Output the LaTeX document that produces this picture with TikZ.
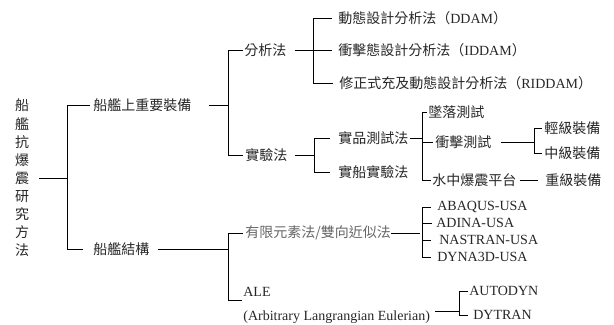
\documentclass[tikz,border=0pt]{standalone}
\usepackage{fontspec}
\setmainfont{Liberation Serif}
\newfontfamily\cjk{Noto Sans CJK TC}
\definecolor{txt}{HTML}{262626}
\definecolor{txtgray}{HTML}{666666}
\begin{document}
\begin{tikzpicture}[x=1bp,y=-1bp,line width=0.7bp,
  lbl/.style={inner sep=0pt,anchor=west,text=txt,font=\fontsize{14bp}{16bp}\selectfont},
  zh/.style={lbl,font=\fontsize{14bp}{16bp}\selectfont\cjk},
  conn/.style={draw=black,line width=0.7bp}]
\useasboundingbox (0,0) rectangle (614,324);
% root
\node[inner sep=0pt,text=txt,align=center,font=\fontsize{14bp}{18.1bp}\selectfont\cjk] (root) at (22,178)
  {船\\艦\\抗\\爆\\震\\研\\究\\方\\法};
% junction coordinates
\coordinate (j0) at (67,178);
\coordinate (jA) at (228,105);
\coordinate (jB) at (228,249);
\coordinate (jC) at (313,50);
\coordinate (jD) at (314,155);
\coordinate (jD1) at (422,138);
\coordinate (jE2) at (534,142);
\coordinate (jG) at (422,233);
\coordinate (jH) at (459,311);
% level 1
\node[zh] (A) at (93,105) {船艦上重要裝備};
\node[zh] (B) at (93,249) {船艦結構};
% level 2
\node[zh] (C) at (244,50) {分析法};
\node[zh] (D) at (245,155) {實驗法};
\node[zh,text=txtgray] (G) at (245,233) {有限元素法/雙向近似法};
\node[lbl,anchor=north west,align=left,font=\fontsize{14bp}{24bp}\selectfont] (H) at (243,286.5)
  {ALE\\(Arbitrary Langrangian Eulerian)};
\coordinate (Hin) at (243,300);
\coordinate (Hout) at (H.east |- jH);
% level 3
\node[lbl] (C1) at (338,18) {{\cjk 動態設計分析法（}DDAM{\cjk ）}};
\node[lbl] (C2) at (338,50) {{\cjk 衝擊態設計分析法（}IDDAM{\cjk ）}};
\node[lbl] (C3) at (339,83) {{\cjk 修正式充及動態設計分析法（}RIDDAM{\cjk ）}};
\node[zh] (D1) at (338,138) {實品測試法};
\node[zh] (D2) at (338,172) {實船實驗法};
\node[zh] (E1) at (428,112) {墜落測試};
\node[zh] (E2) at (435,142) {衝擊測試};
\node[zh] (E3) at (432,180) {水中爆震平台};
\node[zh] (F1) at (544,128) {輕級裝備};
\node[zh] (F2) at (544,153) {中級裝備};
\node[zh] (F3) at (545,180) {重級裝備};
\node[lbl] (G1) at (437,207) {ABAQUS-USA};
\node[lbl] (G2) at (436,223) {ADINA-USA};
\node[lbl] (G3) at (439,240) {NASTRAN-USA};
\node[lbl] (G4) at (437,257) {DYNA3D-USA};
\node[lbl] (H1) at (469,291) {AUTODYN};
\node[lbl] (H2) at (473,315) {DYTRAN};
% connectors
\draw[conn,shorten <=10bp] (root.east) -- (j0);
\draw[conn] (A.west -| j0) -- (B.west -| j0);
\draw[conn,shorten >=3bp] (A.west -| j0) -- (A.west);
\draw[conn,shorten >=10bp] (B.west -| j0) -- (B.west);
% A subtree
\draw[conn,shorten <=17bp] (A.east) -- (jA);
\draw[conn] (C.west -| jA) -- (D.west -| jA);
\draw[conn,shorten >=1.5bp] (C.west -| jA) -- (C.west);
\draw[conn,shorten >=2bp] (D.west -| jA) -- (D.west);
\draw[conn,shorten <=8bp] (C.east) -- (jC);
\draw[conn] (C1.west -| jC) -- (C3.west -| jC);
\draw[conn,shorten >=6bp] (C1.west -| jC) -- (C1.west);
\draw[conn,shorten >=6bp] (C2.west -| jC) -- (C2.west);
\draw[conn,shorten >=6bp] (C3.west -| jC) -- (C3.west);
\draw[conn,shorten <=7bp] (D.east) -- (jD);
\draw[conn] (D1.west -| jD) -- (D2.west -| jD);
\draw[conn,shorten >=8bp] (D1.west -| jD) -- (D1.west);
\draw[conn,shorten >=8bp] (D2.west -| jD) -- (D2.west);
\draw[conn,shorten <=1bp] (D1.east) -- (jD1);
\draw[conn] (E1.west -| jD1) -- (E3.west -| jD1);
\draw[conn,shorten >=1bp] (E1.west -| jD1) -- (E1.west);
\draw[conn,shorten >=2bp] (E2.west -| jD1) -- (E2.west);
\draw[conn,shorten >=1bp] (E3.west -| jD1) -- (E3.west);
\draw[conn,shorten <=9bp] (E2.east) -- (jE2);
\draw[conn] (F1.west -| jE2) -- (F2.west -| jE2);
\draw[conn,shorten >=2bp] (F1.west -| jE2) -- (F1.west);
\draw[conn,shorten >=2bp] (F2.west -| jE2) -- (F2.west);
\draw[conn,shorten <=3bp,shorten >=7bp] (E3.east) -- (F3.west);
% B subtree
\draw[conn,shorten <=8bp] (B.east) -- (jB);
\draw[conn] (G.west -| jB) -- (Hin -| jB);
\draw[conn,shorten >=2bp] (G.west -| jB) -- (G.west);
\draw[conn,shorten >=1bp] (Hin -| jB) -- (Hin);
\draw[conn,shorten >=2bp] (G.east) -- (jG);
\draw[conn] (G1.west -| jG) -- (G4.west -| jG);
\draw[conn,shorten >=6bp] (G1.west -| jG) -- (G1.west);
\draw[conn,shorten >=4bp] (G2.west -| jG) -- (G2.west);
\draw[conn,shorten >=8bp] (G3.west -| jG) -- (G3.west);
\draw[conn,shorten >=6bp] (G4.west -| jG) -- (G4.west);
\draw[conn,shorten <=5bp] (Hout) -- (jH);
\draw[conn] (H1.west -| jH) -- (H2.west -| jH);
\draw[conn,shorten >=1bp] (H1.west -| jH) -- (H1.west);
\draw[conn,shorten >=5bp] (H2.west -| jH) -- (H2.west);
\end{tikzpicture}
\end{document}
